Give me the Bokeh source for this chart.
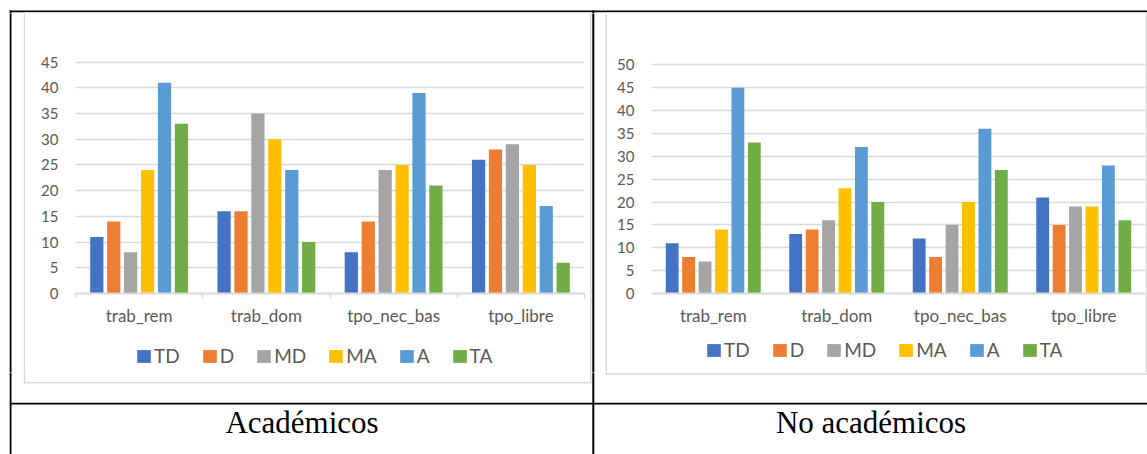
import numpy as np
from bokeh.plotting import figure
from bokeh.models import (Range1d, FixedTicker, SingleIntervalTicker, Legend,
                          LegendItem, ColumnDataSource)
from bokeh.layouts import row, column
from bokeh.core.properties import value
from bokeh.embed import file_html
from bokeh.resources import INLINE

# ---------------------------------------------------------------- data
categories = ["trab_rem", "trab_dom", "tpo_nec_bas", "tpo_libre"]
series = ["TD", "D", "MD", "MA", "A", "TA"]
series_colors = ["#4472C4", "#ED7D31", "#A5A5A5", "#FFC000", "#5B9BD5", "#70AD47"]

# Académicos
acad_td = [11, 16, 8, 26]
acad_d = [14, 16, 14, 28]
acad_md = [8, 35, 24, 29]
acad_ma = [24, 30, 25, 25]
acad_a = [41, 24, 39, 17]
acad_ta = [33, 10, 21, 6]

# No académicos
noacad_td = [11, 13, 12, 21]
noacad_d = [8, 14, 8, 15]
noacad_md = [7, 16, 15, 19]
noacad_ma = [14, 23, 20, 19]
noacad_a = [45, 32, 36, 28]
noacad_ta = [33, 20, 27, 16]

captions = ["Académicos", "No académicos"]

# ---------------------------------------------------------------- style
FONT = "Lato"
TEXT_GREY = "#595959"
GRID_GREY = "#D9D9D9"
GROUP_STEP = 0.133   # distance between neighbouring bars inside a group
BAR_WIDTH = 0.104

# table rules and chart-area frames, in page pixels: left, right, top, bottom, colour
rule_left = [9.2, 9.2, 591.8, 9.2,
             23.3, 589.5, 23.3, 23.3,
             605.0, 1145.1, 605.0, 605.0]
rule_right = [1147, 11.0, 593.8, 1147,
              24.9, 591.0, 591.0, 591.0,
              606.6, 1146.7, 1146.7, 1146.7]
rule_top = [10.0, 10.0, 10.0, 402.2,
            11.8, 11.8, 381.5, 11.8,
            11.8, 11.8, 372.8, 11.8]
rule_bottom = [11.8, 454, 454, 404.0,
               383.0, 383.0, 383.0, 13.0,
               374.3, 374.3, 374.3, 13.0]
rule_color = ["#000000"] * 4 + [GRID_GREY] * 8


def blank(x0, x1, y0, y1, width, height, border_left=0, border_right=0):
    """Empty drawing area addressed in page pixels (y grows downwards)."""
    f = figure(width=width, height=height, x_range=Range1d(x0, x1),
               y_range=Range1d(y1, y0), min_border=0,
               min_border_left=border_left, min_border_right=border_right,
               toolbar_location=None, output_backend="svg",
               x_axis_location=None, y_axis_location=None,
               outline_line_color=None, background_fill_color="white",
               border_fill_color="white")
    f.grid.visible = False
    return f


def deco(x0, y0, w, h):
    """Page area carrying the table rules and chart-area frames."""
    f = blank(x0, x0 + w, y0, y0 + h, w, h)
    src = ColumnDataSource(dict(l=rule_left, r=rule_right, t=rule_top,
                                b=rule_bottom, c=rule_color))
    f.quad(left="l", right="r", top="t", bottom="b", fill_color="c",
           line_color=None, source=src)
    return f


def legend_strip(sources, x0, y0, width, height, borders, location):
    """Series key placed underneath a chart, aligned with its plot area."""
    left, right = borders
    f = blank(x0 + left, x0 + width - right, y0, y0 + height, width, height,
              left, right)
    items = []
    for name, col, src in zip(series, series_colors, sources):
        key = f.vbar(x="x", top="top", width=BAR_WIDTH, source=src,
                     fill_color=col, line_color=None, visible=False)
        items.append(LegendItem(label=name, renderers=[key]))
    # the swatch is inset by 10% on each side of the glyph box
    leg = Legend(items=items, orientation="horizontal", location=location,
                 glyph_width=17, glyph_height=16, label_standoff=2,
                 label_width=10, spacing=21, padding=0, margin=0,
                 border_line_color=None, background_fill_alpha=0,
                 inactive_fill_alpha=0, label_text_font=FONT,
                 label_text_font_size="19px", label_text_color=TEXT_GREY)
    f.add_layout(leg, "center")
    return f


def chart(values_by_series, y_end, width, height, borders, boundary_ticks,
          label_standoff):
    left, right, top, bottom = borders
    p = figure(width=width, height=height,
               x_range=Range1d(0, len(categories)), y_range=Range1d(0, y_end),
               min_border_left=left, min_border_right=right,
               min_border_top=top, min_border_bottom=bottom,
               toolbar_location=None, output_backend="svg",
               outline_line_color=None, background_fill_color="white",
               border_fill_color="white")

    centers = np.arange(len(categories)) + 0.5
    offsets = (np.arange(len(series)) - (len(series) - 1) / 2) * GROUP_STEP
    sources = []
    for off, vals, col in zip(offsets, values_by_series, series_colors):
        src = ColumnDataSource(dict(x=centers + off, top=vals))
        p.vbar(x="x", top="top", bottom=0, width=BAR_WIDTH, source=src,
               fill_color=col, line_color=None)
        sources.append(src)

    # value axis
    yt = SingleIntervalTicker(interval=5, num_minor_ticks=0)
    p.yaxis.ticker = yt
    p.yaxis.axis_line_color = None
    p.yaxis.major_tick_line_color = None
    p.yaxis.minor_tick_line_color = None
    p.yaxis.major_tick_out = 0
    p.yaxis.minor_tick_out = 0
    p.yaxis.major_label_standoff = 17
    p.yaxis.major_label_text_font = FONT
    p.yaxis.major_label_text_font_size = "15px"
    p.yaxis.major_label_text_color = TEXT_GREY
    p.ygrid.ticker = yt
    p.ygrid.grid_line_color = GRID_GREY
    p.ygrid.grid_line_width = 1.7
    p.xgrid.visible = False

    # category axis
    p.xaxis.ticker = FixedTicker(ticks=list(centers),
                                 minor_ticks=list(range(len(categories) + 1)))
    p.xaxis.major_label_overrides = {float(c): n for c, n in zip(centers, categories)}
    p.xaxis.axis_line_color = GRID_GREY
    p.xaxis.axis_line_width = 1.8
    p.xaxis.major_tick_line_color = None
    p.xaxis.major_tick_out = 0
    p.xaxis.major_tick_in = 0
    p.xaxis.minor_tick_in = 0
    if boundary_ticks:
        p.xaxis.minor_tick_line_color = GRID_GREY
        p.xaxis.minor_tick_line_width = 1.5
        p.xaxis.minor_tick_out = 5
    else:
        p.xaxis.minor_tick_line_color = None
        p.xaxis.minor_tick_out = 0
    p.xaxis.major_label_standoff = label_standoff
    p.xaxis.major_label_text_font = FONT
    p.xaxis.major_label_text_font_size = "17px"
    p.xaxis.major_label_text_color = TEXT_GREY
    return p, sources


acad_values = [acad_td, acad_d, acad_md, acad_ma, acad_a, acad_ta]
noacad_values = [noacad_td, noacad_d, noacad_md, noacad_ma, noacad_a, noacad_ta]

chart_left, acad_sources = chart(acad_values, 45.5, 564, 322,
                                 (50, 5, 46, 42), True, 6)
chart_right, noacad_sources = chart(noacad_values, 50.5, 538, 322,
                                    (44, 0, 49, 42), False, 11)

key_left = legend_strip(acad_sources, 25, 335, 564, 37, (50, 5), (60, 5))
key_right = legend_strip(noacad_sources, 607, 335, 538, 37, (44, 0), (54, 11))

top_band = deco(0, 0, 1147, 13)
bottom_band = deco(0, 372, 1147, 82)
bottom_band.text(x=[301.5, 870.5], y=[422, 422], text=captions,
                 text_font=value("Liberation Serif"), text_font_size="31px",
                 text_align="center", text_baseline="middle",
                 text_color="#000000")

middle = row(
    deco(0, 13, 25, 359),
    column(chart_left, key_left),
    deco(589, 13, 18, 359),
    column(chart_right, key_right),
    deco(1145, 13, 2, 359),
)
page = column(top_band, middle, bottom_band)

open("out.html", "w").write(file_html(page, INLINE))
